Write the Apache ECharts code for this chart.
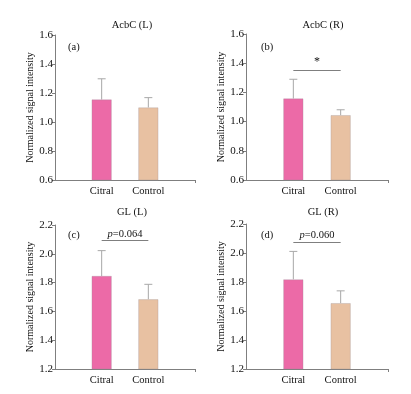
<!DOCTYPE html>
<html><head><meta charset="utf-8">
<script src="https://cdn.jsdelivr.net/npm/echarts@6/dist/echarts.min.js"></script>
<style>html,body{margin:0;padding:0;background:#fff}#c{width:411px;height:394px}</style>
</head><body><div id="c"></div>
<script>
const categories = ['', 'Citral', 'Control', ''];
const groupNames = ['Citral', 'Control'];
const panelTitles = ['AcbC (L)', 'AcbC (R)', 'GL (L)', 'GL (R)'];
const panelLabels = ['(a)', '(b)', '(c)', '(d)'];
const acbcLMean = [1.155, 1.100];
const acbcLErr = [0.143, 0.068];
const acbcRMean = [1.158, 1.044];
const acbcRErr = [0.132, 0.037];
const glLMean = [1.846, 1.684];
const glLErr = [0.176, 0.104];
const glRMean = [1.818, 1.654];
const glRErr = [0.193, 0.085];
const yMins = [0.6, 0.6, 1.2, 1.2];
const yMaxs = [1.6, 1.6, 2.2, 2.2];
const sigText = [null, '*', 'p=0.064', 'p=0.060'];
const sigLevel = [null, 1.352, 2.091, 2.076];

const means = [acbcLMean, acbcRMean, glLMean, glRMean];
const errs = [acbcLErr, acbcRErr, glLErr, glRErr];
const barColors = ['#ec6aa7', '#e8c1a2'];
const font = 'Liberation Serif';

const grids = [
  {left: 55, top: 35, width: 140, height: 145},
  {left: 246, top: 34, width: 142, height: 146},
  {left: 55, top: 225, width: 140, height: 144},
  {left: 246, top: 224, width: 142, height: 145}
];
const titlePos = [[127, 15], [318, 15], [127, 202], [318, 202]];
const labelPos = [[63, 37], [256, 37], [63, 225], [256, 225]];

const xAxes = [], yAxes = [], series = [], titles = [];
for (let i = 0; i < 4; i++) {
  titles.push({text: panelTitles[i], left: titlePos[i][0], top: titlePos[i][1], textAlign: 'center',
    textStyle: {fontFamily: font, fontSize: 10.5, fontWeight: 'normal', color: '#111'}});
  titles.push({text: panelLabels[i], left: labelPos[i][0], top: labelPos[i][1],
    textStyle: {fontFamily: font, fontSize: 10.5, fontWeight: 'normal', color: '#111'}});
  xAxes.push({type: 'category', gridIndex: i, data: categories, boundaryGap: false,
    axisLine: {lineStyle: {color: '#7f7f7f', width: 1}},
    axisTick: {show: true, interval: (idx) => idx === 3, length: 3, lineStyle: {color: '#7f7f7f'}},
    axisLabel: {interval: 0, fontFamily: font, fontSize: 10.5, color: '#111', margin: 6},
    splitLine: {show: false}});
  yAxes.push({type: 'value', gridIndex: i, min: yMins[i], max: yMaxs[i], interval: 0.2,
    name: 'Normalized signal intensity', nameLocation: 'middle', nameGap: 19,
    nameTextStyle: {fontFamily: font, fontSize: 10, color: '#111'},
    axisLine: {show: true, lineStyle: {color: '#7f7f7f', width: 1}},
    axisTick: {show: true, length: 3, lineStyle: {color: '#7f7f7f'}},
    axisLabel: {fontFamily: font, fontSize: 11, color: '#111', margin: 2, formatter: v => v.toFixed(1)},
    splitLine: {show: false}});
  const barData = [null].concat(means[i].map((v, k) => ({value: v, itemStyle: {color: barColors[k]}}))).concat([null]);
  const bar = {type: 'bar', xAxisIndex: i, yAxisIndex: i, data: barData, barWidth: 20,
    itemStyle: {borderColor: 'rgba(150,140,150,0.5)', borderWidth: 0.6}, z: 2};
  if (sigText[i]) {
    const isP = sigText[i].startsWith('p');
    bar.markLine = {symbol: 'none', silent: true, animation: false,
      lineStyle: {color: '#7f7f7f', width: 1, type: 'solid'},
      label: {show: true, position: 'middle', distance: isP ? 1 : 2,
        formatter: isP ? '{i|p}{n|' + sigText[i].slice(1) + '}' : sigText[i],
        fontFamily: font, fontSize: isP ? 10.5 : 12, color: '#111',
        rich: {i: {fontFamily: font, fontStyle: 'italic', fontSize: 10.5, color: '#111'},
               n: {fontFamily: font, fontSize: 10.5, color: '#111'}}},
      data: [[{coord: [groupNames[0], sigLevel[i]]}, {coord: [groupNames[1], sigLevel[i]]}]]};
  }
  series.push(bar);
  const errData = means[i].map((v, k) => [groupNames[k], v, v + errs[i][k]]);
  series.push({type: 'custom', xAxisIndex: i, yAxisIndex: i, data: errData, z: 1,
    encode: {x: 0, y: [1, 2]},
    renderItem: function (params, api) {
      const x = api.value(0);
      const lo = api.coord([x, api.value(1)]);
      const hi = api.coord([x, api.value(2)]);
      const cap = 4;
      const st = {stroke: '#a8a8a8', lineWidth: 1};
      return {type: 'group', children: [
        {type: 'line', shape: {x1: lo[0], y1: lo[1], x2: hi[0], y2: hi[1]}, style: st},
        {type: 'line', shape: {x1: hi[0] - cap, y1: hi[1], x2: hi[0] + cap, y2: hi[1]}, style: st}
      ]};
    }});
}

const chart = echarts.init(document.getElementById('c'));
chart.setOption({animation: false, backgroundColor: '#fff', title: titles, grid: grids,
  xAxis: xAxes, yAxis: yAxes, series: series});
</script></body></html>
